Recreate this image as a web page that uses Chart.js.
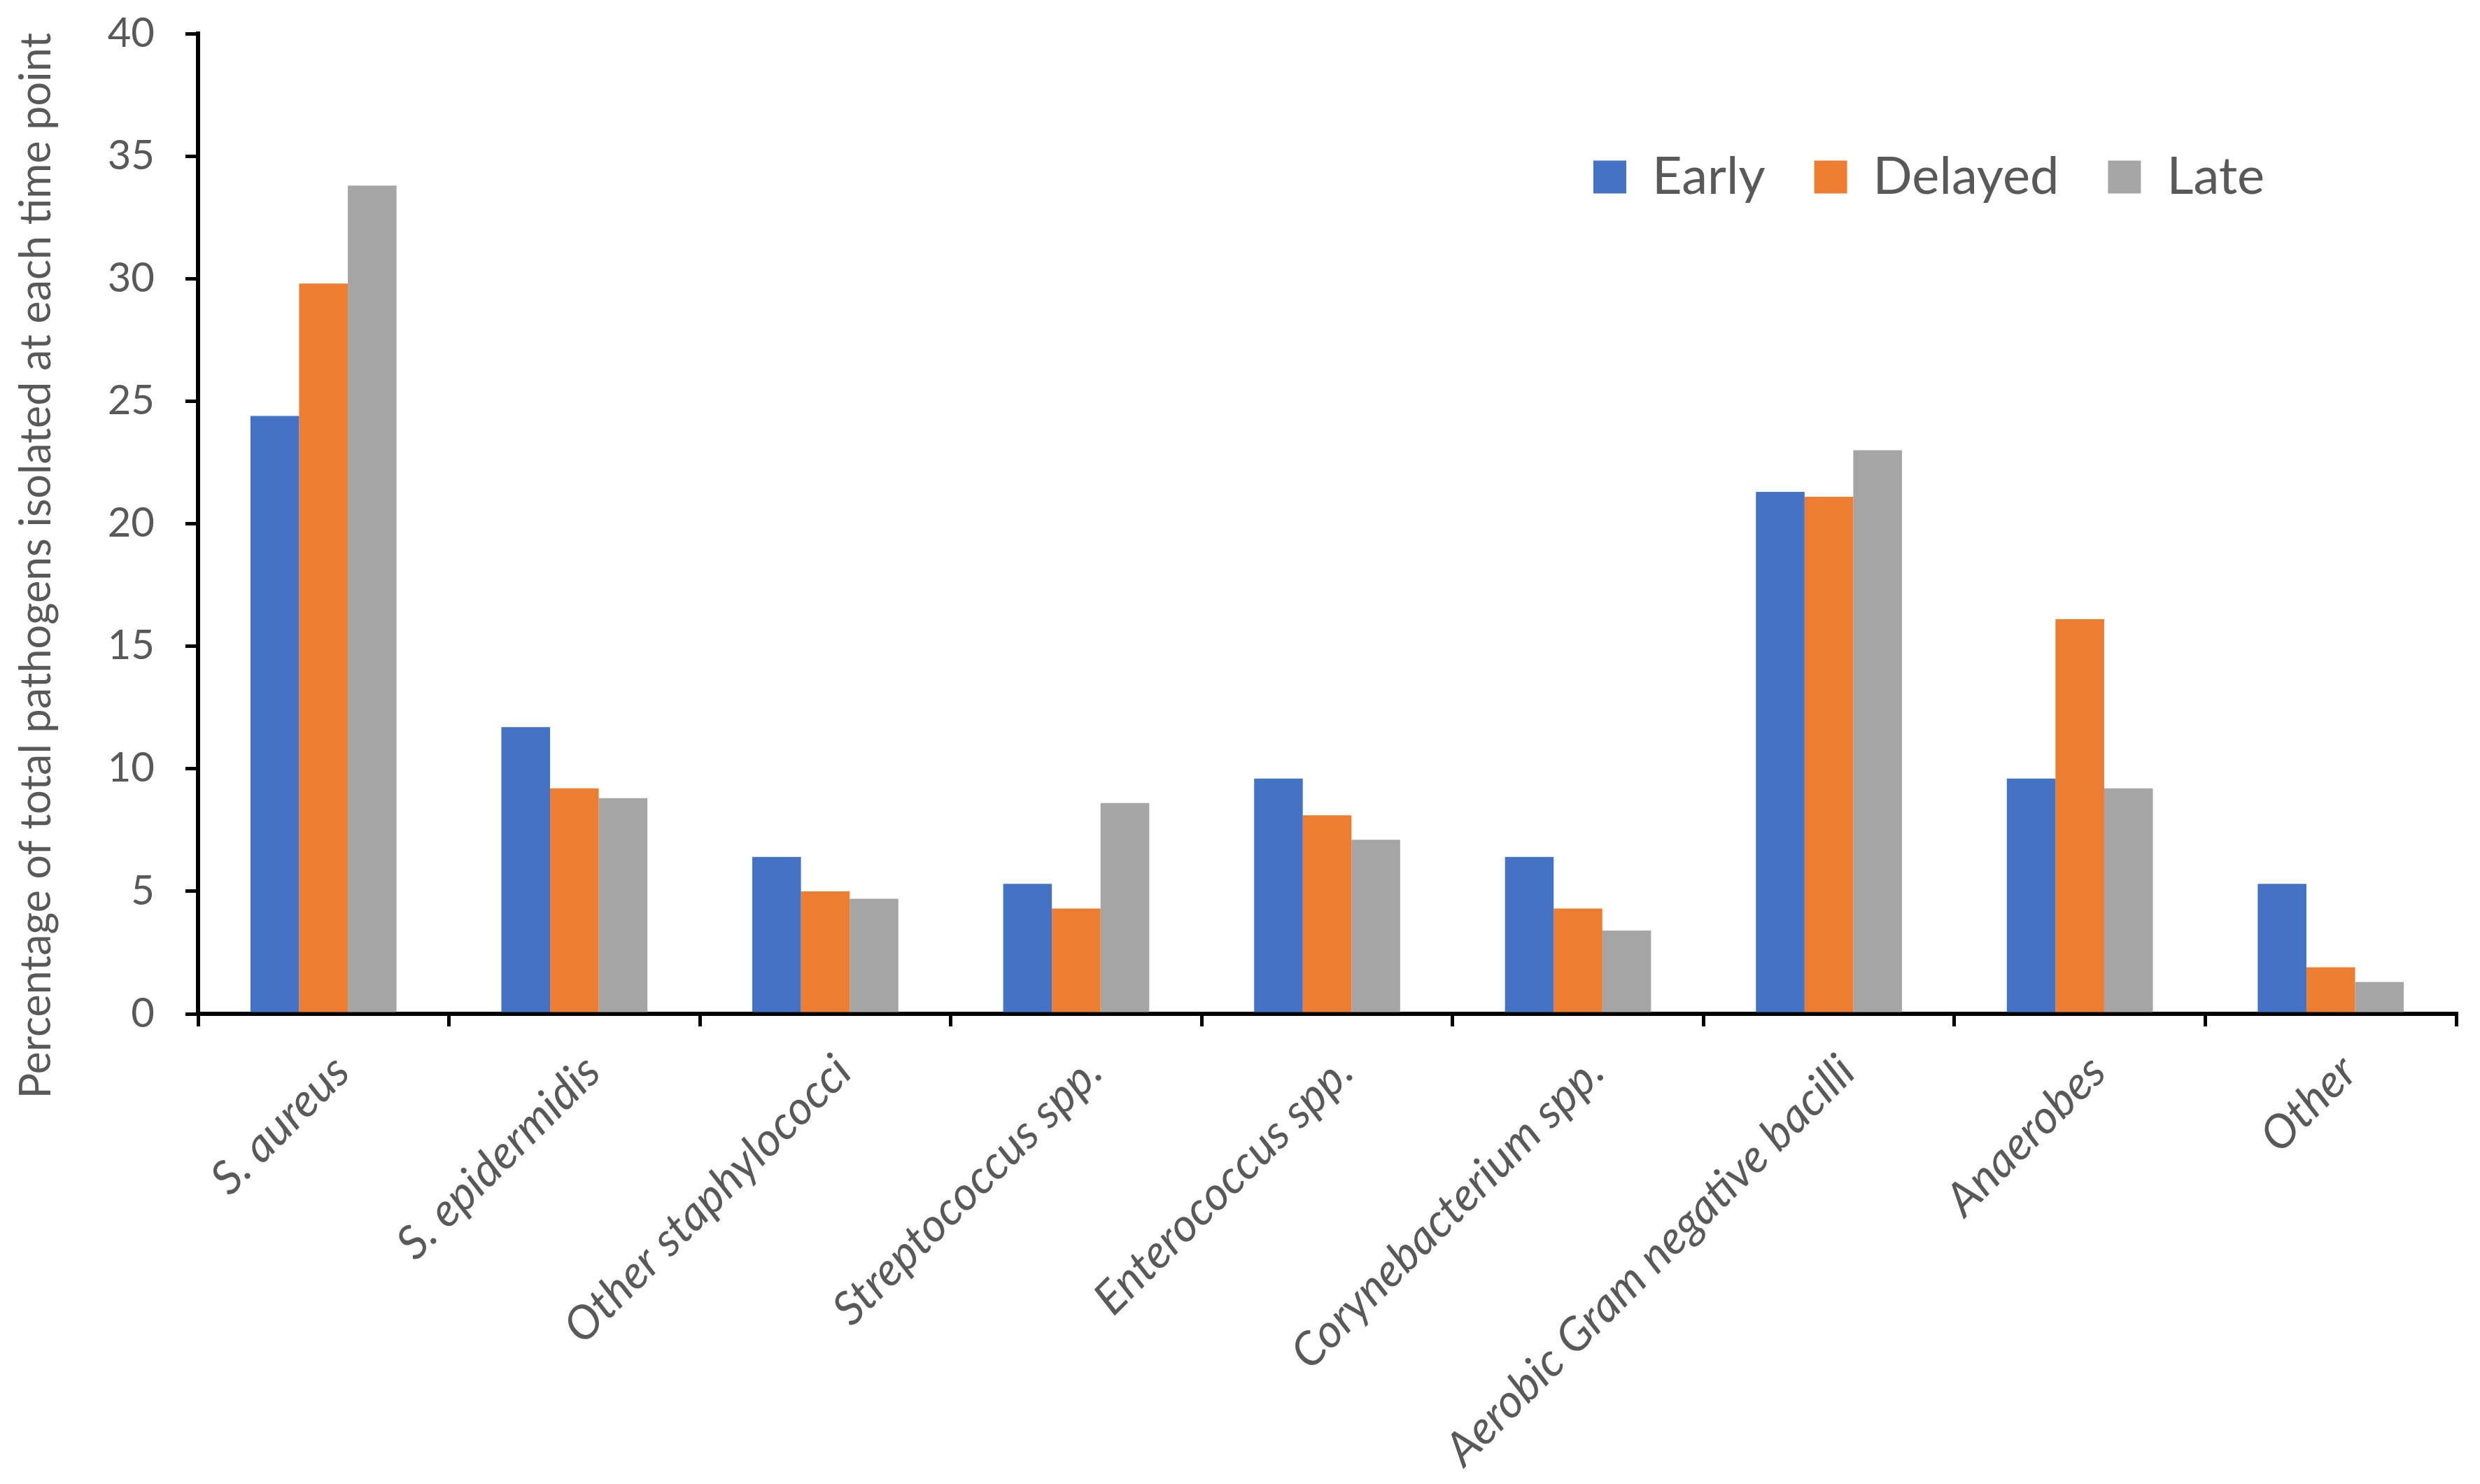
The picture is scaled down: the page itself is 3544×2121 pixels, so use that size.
<!DOCTYPE html>
<html>
<head>
<meta charset="utf-8">
<script src="https://cdn.jsdelivr.net/npm/chart.js@4.4.1/dist/chart.umd.min.js"></script>
<style>
  html, body { margin: 0; padding: 0; background: #fff; }
  #wrap { width: 3544px; height: 2121px; }
</style>
</head>
<body>
<div id="wrap"><canvas id="chart" width="3544" height="2121"></canvas></div>
<script>
const categories = ['S. aureus', 'S. epidermidis', 'Other staphylococci', 'Streptococcus spp.', 'Enterococcus spp.',
    'Corynebacterium spp.', 'Aerobic Gram negative bacilli', 'Anaerobes', 'Other'];
const earlyValues = [24.4, 11.7, 6.4, 5.3, 9.6, 6.4, 21.3, 9.6, 5.3];
const delayedValues = [29.8, 9.2, 5.0, 4.3, 8.1, 4.3, 21.1, 16.1, 1.9];
const lateValues = [33.8, 8.8, 4.7, 8.6, 7.1, 3.4, 23.0, 9.2, 1.3];
const seriesNames = ['Early', 'Delayed', 'Late'];
const yTicks = { min: 0, max: 40, step: 5 };

const textGrey = '#595959';
const fontFamily = 'Lato, "Open Sans", sans-serif';

// legend goes inside the plot; y title sits a little lower than centre, like the original
const placement = {
    id: 'placement',
    afterLayout(chart) {
        const lg = chart.legend;
        const pad = lg.options.labels.padding;
        lg.left = 2277 - pad;
        lg.right = chart.width;
        lg.top = 253 - 37 - pad;
        lg.bottom = lg.top + 300;

        const y = chart.scales.y;
        if (!y._titleShifted) {
            const drawTitle = y.drawTitle;
            y.drawTitle = function () {
                this.ctx.save();
                this.ctx.translate(0, 60);
                drawTitle.call(this);
                this.ctx.restore();
            };
            y._titleShifted = true;
        }
    }
};

new Chart(document.getElementById('chart').getContext('2d'), {
    type: 'bar',
    data: {
        labels: categories,
        datasets: [
            { label: seriesNames[0], data: earlyValues, backgroundColor: '#4472C4' },
            { label: seriesNames[1], data: delayedValues, backgroundColor: '#ED7D31' },
            { label: seriesNames[2], data: lateValues, backgroundColor: '#A5A5A5' }
        ]
    },
    options: {
        responsive: false,
        devicePixelRatio: 1,
        animation: false,
        datasets: { bar: { categoryPercentage: 0.582, barPercentage: 1.0, borderWidth: 0 } },
        layout: { padding: { left: 16, right: 34, top: 47, bottom: 0 } },
        plugins: {
            tooltip: { enabled: false },
            legend: {
                position: 'top',
                align: 'start',
                maxHeight: 1,
                labels: {
                    boxWidth: 47, boxHeight: 47, padding: 70,
                    color: textGrey,
                    font: { family: fontFamily, size: 74 }
                }
            }
        },
        scales: {
            x: {
                afterFit(scale) { scale.height = 672; },
                border: { display: true, color: '#000', width: 6 },
                grid: { display: true, drawOnChartArea: false, drawTicks: true, tickLength: 18, color: '#000', lineWidth: 5, offset: true },
                ticks: {
                    autoSkip: false, minRotation: 45, maxRotation: 45, padding: 26, labelOffset: 26,
                    color: textGrey,
                    font: { family: fontFamily, size: 66, style: 'italic' }
                }
            },
            y: {
                min: yTicks.min, max: yTicks.max,
                afterFit(scale) {
                    scale.width = 267;
                    scale.paddingTop = 0;
                    scale.paddingBottom = 0;
                },
                border: { display: true, color: '#000', width: 6 },
                grid: { display: true, drawOnChartArea: false, drawTicks: true, tickLength: 18, color: '#000', lineWidth: 5 },
                ticks: {
                    stepSize: yTicks.step, padding: 44,
                    color: textGrey,
                    font: { family: fontFamily, size: 58 }
                },
                title: {
                    display: true,
                    text: 'Percentage of total pathogens isolated at each time point',
                    color: textGrey,
                    padding: 0,
                    font: { family: fontFamily, size: 61 }
                }
            }
        }
    },
    plugins: [placement]
});
</script>
</body>
</html>
